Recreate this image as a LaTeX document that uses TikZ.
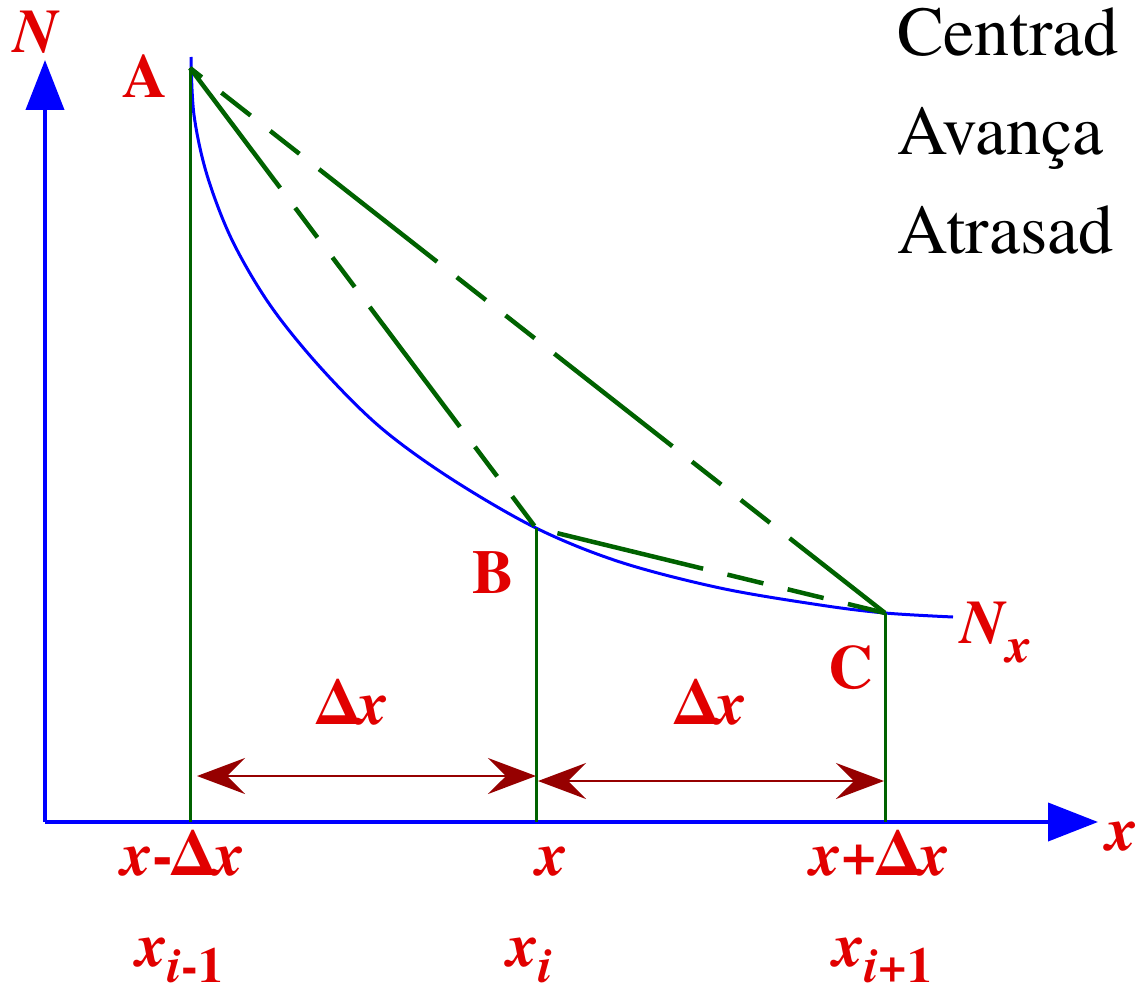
\documentclass[tikz,border=0pt]{standalone}
\usepackage{fontspec}
\setmainfont{texgyretermes}[Extension=.otf, UprightFont=*-regular,
  BoldFont=*-bold, ItalicFont=*-italic, BoldItalicFont=*-bolditalic]
\usetikzlibrary{arrows.meta}
\definecolor{axisblue}{RGB}{0,0,255}
\definecolor{chordgreen}{RGB}{0,98,0}
\definecolor{labelred}{RGB}{225,0,0}
\definecolor{spanred}{RGB}{150,0,0}
\newcommand{\ivar}{\textit{x}}
\newcommand{\lowidx}[2][16pt]{\raisebox{-#1}{\fontsize{50}{50}\selectfont #2}}

\begin{document}
\begin{tikzpicture}[x=1pt, y=-1pt,
  axis/.style={draw=axisblue, line width=4pt,
    -{Triangle[length=50pt, width=38pt]}},
  curve/.style={draw=axisblue, line width=3pt},
  ordinate/.style={draw=chordgreen, line width=3pt},
  chord/.style={draw=chordgreen, line width=4.5pt,
    dash pattern=on 150pt off 25pt on 37pt off 25pt on 37pt off 25pt},
  span/.style={draw=spanred, line width=2.5pt,
    {Stealth[length=48pt, width=36pt, inset=18pt]}-{Stealth[length=48pt, width=36pt, inset=18pt]}},
  pointlabel/.style={font=\fontsize{62}{62}\selectfont\bfseries,
    text=labelred, anchor=base, inner sep=0pt},
  note/.style={font=\fontsize{70}{70}\selectfont, anchor=base west, inner sep=0pt}
]
\useasboundingbox[fill=white] (0,0) rectangle (1137,992);

% points on the curve and the axes
\coordinate (origin) at (45,822);
\coordinate (ytip) at (45,60);
\coordinate (xtip) at (1098,822);
\coordinate (ptA) at (190,68);
\coordinate (ptB) at (536,528);
\coordinate (ptC) at (885,613);
\coordinate (footA) at (190,822);
\coordinate (footB) at (536,822);
\coordinate (footC) at (885,822);
\coordinate (spanL) at (197,776);
\coordinate (spanM) at (536,776);
\coordinate (spanN) at (538,781);
\coordinate (spanR) at (884,781);

\draw[axis] (origin) -- (ytip);
\draw[axis] (origin) -- (xtip);

\draw[curve] plot[smooth, tension=0.55] coordinates {
  (191,57) (194,115) (207,175) (232,240) (270,305) (320,367) (380,427)
  (450,478) (536,528) (620,562) (720,588) (820,605) (885,613) (953,617)};

\draw[ordinate] (footA) -- (ptA);
\draw[ordinate] (footB) -- (ptB);
\draw[ordinate] (footC) -- (ptC);

\draw[chord] (ptA) -- (ptB);
\draw[chord, dash phase=135pt] (ptA) -- (ptC);
\draw[chord, dash phase=277pt] (ptB) -- (ptC);

\draw[span] (spanL) -- (spanM);
\draw[span] (spanN) -- (spanR);

% labels
\node[pointlabel] (labN) at (37,53) {\textit{N}};
\node[pointlabel] (labA) at (145,98) {A};
\node[pointlabel] (labB) at (493,593) {B};
\node[pointlabel] (labC) at (851,688) {C};
\node[pointlabel, anchor=base west] (labNx) at (960,643)
  {\textit{N}\lowidx[19pt]{\textit{x}}};
\node[pointlabel] (labDL) at (353,724) {Δ\ivar};
\node[pointlabel] (labDR) at (711,724) {Δ\ivar};
\node[pointlabel] (tickL) at (183,875) {\ivar-Δ\ivar};
\node[pointlabel] (tickM) at (552,875) {\ivar};
\node[pointlabel] (tickR) at (880,875) {\ivar+Δ\ivar};
\node[pointlabel] (idxL) at (180,966) {\ivar\lowidx{\textit{i}-1}};
\node[pointlabel] (idxM) at (530,966) {\ivar\lowidx{\textit{i}}};
\node[pointlabel] (idxR) at (883,966) {\ivar\lowidx{\textit{i}+1}};
\node[pointlabel, anchor=base west] (labx) at (1106,850) {\ivar};

\node[note] (noteC) at (897,56) {Centrad};
\node[note] (noteF) at (897,155) {Avança};
\node[note] (noteB) at (897,254) {Atrasad};
\end{tikzpicture}
\end{document}
